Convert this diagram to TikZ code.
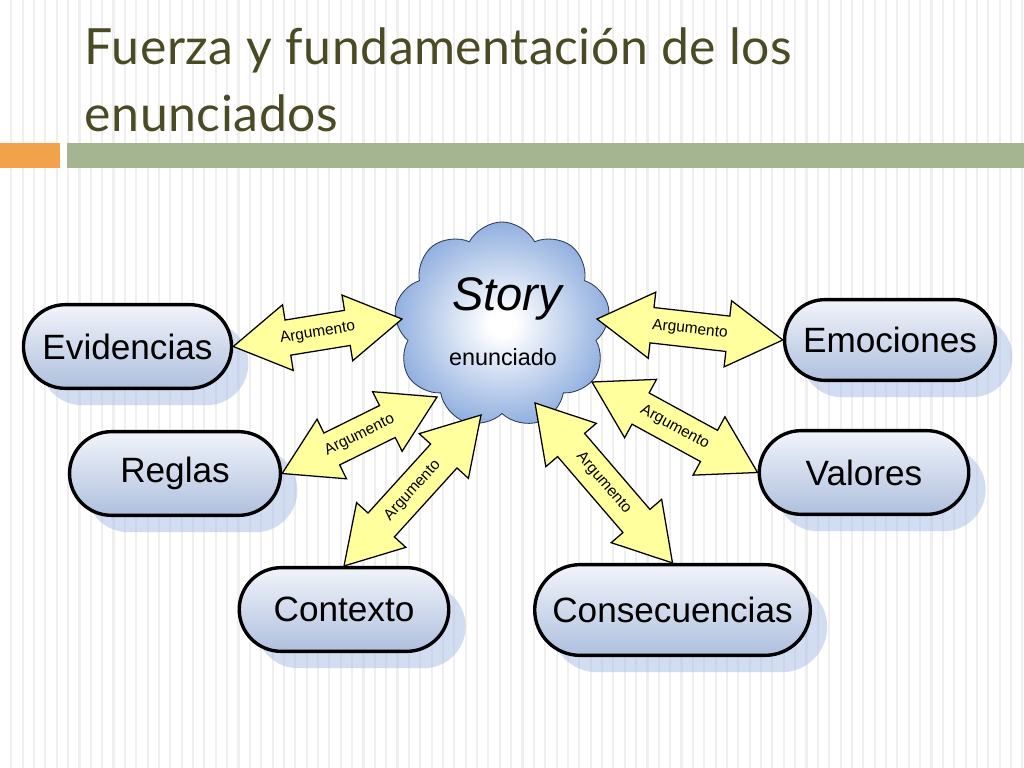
\documentclass[tikz,border=0pt]{standalone}
\usepackage{fontspec}
\setmainfont{Liberation Sans}
\newfontfamily\titlefont[LetterSpace=1]{Lato}
\usetikzlibrary{calc,shapes.misc,shapes.symbols,shapes.arrows,shadows}

\definecolor{titleolive}{HTML}{4A4A24}
\definecolor{barorange}{HTML}{F2A24A}
\definecolor{barolive}{HTML}{A5B592}
\definecolor{stripegray}{HTML}{EFEFEF}
\definecolor{boxtop}{HTML}{F1F4FA}
\definecolor{boxbot}{HTML}{AFC0DE}
\definecolor{shadowblue}{HTML}{A9BDE6}
\definecolor{cloudblue}{HTML}{5A88D0}
\definecolor{cloudline}{HTML}{2E3B55}
\definecolor{argyellow}{HTML}{FFFF9E}

\pgfdeclareradialshading{cloudshade}{\pgfpoint{0bp}{0bp}}{color(0bp)=(white); color(3bp)=(white); color(36bp)=(cloudblue); color(50bp)=(cloudblue)}

% double arrow between two points, label along it
\newcommand{\argarrow}[3]{%
  \path let \p1=(#1), \p2=(#2), \n1={atan2(\y2-\y1,\x2-\x1)}, \n2={veclen(\x2-\x1,\y2-\y1)} in
    ($(#1)!0.5!(#2)$) node[argbox, minimum height=\n2, rotate=\n1] (#3) {Argumento};}

\begin{document}
\begin{tikzpicture}[line cap=round,line join=round,x=0.025cm,y=-0.025cm,
  stripe/.style={stripegray, line width=1.5pt},
  titletext/.style={anchor=base west, text=titleolive, font=\titlefont\fontsize{35.5}{40}\selectfont},
  box/.style={rounded rectangle, draw=black, line width=2.4pt, top color=boxtop, bottom color=boxbot,
    minimum height=59.5pt, inner sep=0pt, font=\fontsize{25}{30}\selectfont,
    drop shadow={shadow xshift=12pt, shadow yshift=-12pt, fill=shadowblue, opacity=0.5}},
  argbox/.style={double arrow, draw=black, line width=0.9pt, line join=miter, fill=argyellow,
    inner xsep=0pt, inner ysep=7pt, text height=8pt, text depth=2.4pt, minimum width=40pt,
    double arrow head extend=11pt, double arrow tip angle=62, font=\fontsize{11}{12}\selectfont}]
\useasboundingbox (0,0) rectangle (1024,768);
\fill[white] (0,0) rectangle (1024,768);
\foreach \i in {0,...,90}
  \draw[stripe] ({11.3+11.36*\i},0) -- ++(0,768);

\node[titletext] (tline1) at (80,65) {Fuerza y fundamentación de los};
\node[titletext] (tline2) at (80,132) {enunciados};
\fill[barorange] (0,143) rectangle (60,168);
\fill[barolive] (67,143) rectangle (1024,168);

\node[cloud, cloud puffs=9, cloud puff arc=125, aspect=1, minimum width=5.4cm, minimum height=5.15cm,
  draw=cloudline, line width=0.6pt, shade, shading=cloudshade, inner sep=0pt] (story) at (502,325) {};
\node[anchor=base, font=\fontsize{33.5}{36}\selectfont\itshape] (storyword) at (507,310) {Story};
\node[anchor=base, font=\fontsize{16.6}{19}\selectfont] (enun) at (503,365) {enunciado};

\node[box, minimum width=148pt] (evid) at (127.5,346.5) {Evidencias};
\node[box, minimum width=150pt] (regl) at (175,473.5) {Reglas};
\node[box, minimum width=150pt, minimum height=57.4pt] (emoc) at (890,340) {Emociones};
\node[box, minimum width=149pt] (valo) at (864,472.5) {Valores};
\node[box, minimum width=149pt] (cont) at (344,609.5) {Contexto};
\node[box, minimum width=196pt, minimum height=64.5pt] (cons) at (672.5,610) {Consecuencias};

\coordinate (s1) at ($(story.center)+(-100,-6)$);
\coordinate (s2) at ($(story.center)+(95,-6)$);
\coordinate (s3) at ($(story.center)+(-65,72)$);
\coordinate (s4) at ($(story.center)+(-21,90)$);
\coordinate (s5) at ($(story.center)+(33,78)$);
\coordinate (s6) at ($(story.center)+(90,57)$);

\argarrow{evid.east}{s1}{arg1}
\argarrow{s2}{emoc.west}{arg2}
\argarrow{regl.east}{s3}{arg3}
\argarrow{cont.north}{s4}{arg4}
\argarrow{s5}{cons.north}{arg5}
\argarrow{s6}{valo.west}{arg6}
\end{tikzpicture}
\end{document}
